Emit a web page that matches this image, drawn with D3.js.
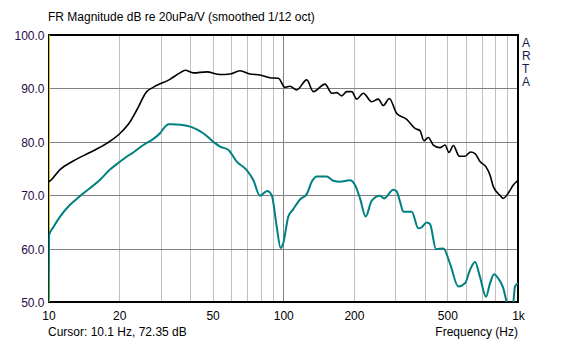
<!DOCTYPE html>
<html>
<head>
<meta charset="utf-8">
<script src="https://cdn.jsdelivr.net/npm/d3@7"></script>
<style>
    body { margin: 0; background: #fff; }
    svg text { font-family: "Liberation Sans", Arial, sans-serif; font-size: 12px; fill: #000; }
</style>
</head>
<body>
<svg id="fr-chart" width="566" height="344"></svg>
<script>
    // black curve: [Hz, dB]
    var upperCurve = [
        [10, 72.5], [10.1, 72.6], [11.2, 74.8], [12.75, 76.4], [15.0, 78.0], [17.7, 79.7],
        [20.2, 81.6], [22.3, 83.8], [23.8, 86.0], [26.2, 89.4], [27.9, 90.2], [32.9, 91.7],
        [36.3, 92.9], [38.2, 93.4], [41.4, 92.9], [47.2, 93.1], [53.8, 92.6], [59.3, 92.7],
        [65.4, 93.3], [72.1, 92.7], [79.6, 92.5], [87.8, 92.0], [95.3, 91.9], [101.7, 90.2],
        [106.9, 90.4], [114.1, 89.7], [125.9, 91.6], [134.3, 89.4], [150.6, 90.8], [160.9, 89.1],
        [168.9, 89.2], [177.4, 88.6], [186.4, 89.4], [195.7, 89.4], [205.6, 88.0], [219.3, 89.1],
        [238.2, 87.5], [254.1, 88.0], [266.8, 86.8], [283.1, 88.1], [304.3, 85.3], [335.7, 84.2],
        [364.0, 82.5], [382.3, 82.1], [397.6, 80.2], [414.8, 80.8], [435.7, 79.4], [465.3, 78.9],
        [488.7, 79.4], [508.2, 78.0], [530.2, 79.3], [562.3, 77.3], [594.6, 77.3], [628.7, 78.1],
        [656.0, 77.8], [688.7, 76.3], [730.6, 75.3], [759.8, 73.8], [785.0, 71.6], [838.1, 70.0],
        [865.7, 69.4], [909.3, 70.4], [955, 71.9], [1000, 72.8]
    ];

    // teal curve: [Hz, dB]
    var lowerCurve = [
        [9.97, 44], [10.05, 62.5], [10.48, 64.0], [11.2, 66.0], [12.35, 68.2], [13.6, 69.8],
        [16.57, 72.9], [18.28, 74.8], [20.2, 76.3], [21.5, 77.2], [22.97, 78.0], [25.34, 79.4],
        [27.9, 80.5], [29.85, 81.6], [31.35, 82.8], [32.45, 83.3], [33.5, 83.3], [36.3, 83.2],
        [40.5, 82.8], [45.64, 81.6], [50.35, 80.0], [53.8, 79.1], [58.3, 78.5], [63.35, 76.3],
        [69.9, 74.7], [74.6, 72.8], [79.6, 69.9], [85.5, 70.8], [89.3, 70.0], [93.8, 64.1],
        [97.5, 60.1], [100, 61.0], [105.1, 66.0], [110.4, 67.4], [117.9, 69.2], [125.9, 70.2],
        [132.2, 72.5], [138.8, 73.5], [153.1, 73.5], [163.4, 72.7], [174.5, 72.5], [192.4, 72.8],
        [202.2, 71.9], [212.3, 69.4], [224.5, 66.0], [238.2, 69.0], [258.3, 69.9], [268.7, 69.4],
        [294.3, 71.0], [304.3, 70.7], [314.4, 68.8], [324.7, 66.9], [352.6, 66.9], [376.1, 63.8],
        [388.9, 64.0], [408.3, 64.9], [421.8, 64.6], [447.5, 59.9], [480.8, 60.0], [513.1, 57.2],
        [556.9, 52.9], [594.6, 53.5], [624.4, 56.0], [656.0, 57.5], [688.7, 54.7], [730.6, 51.0],
        [759.8, 53.5], [790.4, 55.2], [824.4, 54.4], [865.7, 52.6], [894.9, 50.0], [924.7, 48.5],
        [955, 50.0], [971, 52.9], [1000, 53.5]
    ];

    var xTickValues = [10, 20, 50, 100, 200, 500, 1000];
    var xTickLabels = ["10", "20", "50", "100", "200", "500", "1k"];
    var minorFreqs = [20, 30, 40, 50, 60, 70, 80, 90, 200, 300, 400, 500, 600, 700, 800, 900];
    var yTickValues = [50, 60, 70, 80, 90, 100];
    var cursorFreq = 10.1;

    var margin = { top: 35, bottom: 42, left: 48.5, right: 48 };
    var svg = d3.select("#fr-chart");
    var w = +svg.attr("width"), h = +svg.attr("height");
    var width = w - margin.left - margin.right;
    var height = h - margin.top - margin.bottom;

    var chart = svg.append("g")
        .attr("transform", "translate(" + margin.left + "," + margin.top + ")");

    var x = d3.scaleLog().domain([10, 1000]).range([0, width]);
    var y = d3.scaleLinear().domain([50, 100]).range([height, 0]);

    svg.append("defs").append("clipPath").attr("id", "plot-clip")
        .append("rect").attr("width", width).attr("height", height);

    // minor vertical gridlines
    chart.append("g")
        .call(d3.axisBottom(x).tickValues(minorFreqs).tickSize(height).tickFormat(""))
        .call(function (g) {
            g.select(".domain").remove();
            g.selectAll("line").attr("stroke", "#c0c0c0").attr("shape-rendering", "crispEdges");
        });

    // 100 Hz major line
    chart.append("g")
        .call(d3.axisBottom(x).tickValues([100]).tickSize(height).tickFormat(""))
        .call(function (g) {
            g.select(".domain").remove();
            g.selectAll("line").attr("stroke", "#808080").attr("shape-rendering", "crispEdges");
        });

    // horizontal gridlines
    chart.append("g")
        .call(d3.axisLeft(y).tickValues(yTickValues).tickSize(-width).tickFormat(""))
        .call(function (g) {
            g.select(".domain").remove();
            g.selectAll("line").attr("stroke", "#808080").attr("shape-rendering", "crispEdges");
        });

    // x axis labels
    chart.append("g")
        .attr("transform", "translate(0," + height + ")")
        .call(d3.axisBottom(x).tickValues(xTickValues).tickSize(0).tickPadding(9)
            .tickFormat(function (d, i) { return xTickLabels[i]; }))
        .call(function (g) {
            g.select(".domain").remove();
            g.selectAll("text").style("font-size", "12px").style("fill", "#000");
        });

    // y axis labels
    chart.append("g")
        .call(d3.axisLeft(y).tickValues(yTickValues).tickSize(0).tickPadding(4)
            .tickFormat(d3.format(".1f")))
        .call(function (g) {
            g.select(".domain").remove();
            g.selectAll("text").style("font-size", "12px").style("fill", "#2a0a48")
                .attr("dy", "0.38em");
        });

    // frame
    chart.append("rect")
        .attr("width", width).attr("height", height)
        .attr("fill", "none").attr("stroke", "#000").attr("stroke-width", 1.2)
        .attr("shape-rendering", "crispEdges");

    // cursor
    chart.append("line")
        .attr("x1", x(cursorFreq)).attr("x2", x(cursorFreq))
        .attr("y1", 0).attr("y2", height)
        .attr("stroke", "#c8c800").attr("stroke-width", 1);

    var line = d3.line()
        .x(function (d) { return x(d[0]); })
        .y(function (d) { return y(d[1]); })
        .curve(d3.curveMonotoneX);

    var curves = chart.append("g").attr("clip-path", "url(#plot-clip)");

    curves.append("path")
        .datum(lowerCurve)
        .attr("d", line)
        .attr("fill", "none").attr("stroke", "#008080").attr("stroke-width", 2);

    curves.append("path")
        .datum(upperCurve)
        .attr("d", line)
        .attr("fill", "none").attr("stroke", "#000").attr("stroke-width", 1.6);

    // texts
    svg.append("text").attr("x", 48).attr("y", 21)
        .text("FR Magnitude dB re 20uPa/V (smoothed 1/12 oct)");
    svg.append("text").attr("x", 48).attr("y", 336)
        .text("Cursor: 10.1 Hz, 72.35 dB");
    svg.append("text").attr("x", 518).attr("y", 336).attr("text-anchor", "end")
        .text("Frequency (Hz)");

    ["A", "R", "T", "A"].forEach(function (c, i) {
        svg.append("text").attr("x", 522).attr("y", 47 + i * 13)
            .style("fill", "#1a1a50").text(c);
    });
</script>
</body>
</html>
